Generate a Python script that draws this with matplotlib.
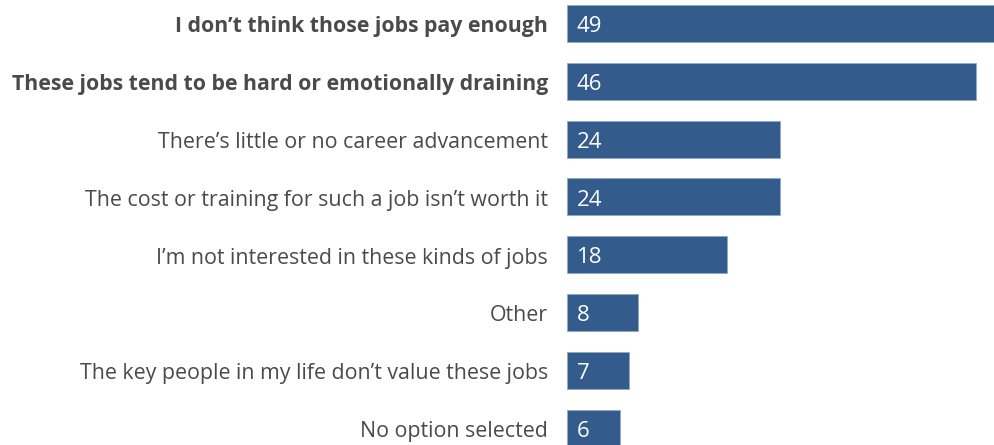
import matplotlib.pyplot as plt

reasons = [
    "I don\u2019t think those jobs pay enough",
    "These jobs tend to be hard or emotionally draining",
    "There\u2019s little or no career advancement",
    "The cost or training for such a job isn\u2019t worth it",
    "I\u2019m not interested in these kinds of jobs",
    "Other",
    "The key people in my life don\u2019t value these jobs",
    "No option selected",
]
shares = [49, 46, 24, 24, 18, 8, 7, 6]
bold_rows = [0, 1]

BAR_COLOR = "#335b8c"
TEXT_COLOR = "#4a4a4a"

plt.rcParams['font.family'] = ['Open Sans', 'DejaVu Sans']

fig = plt.figure(figsize=(9.94, 4.45), dpi=100)
ax = fig.add_axes([567 / 994, 0, 427 / 994, 1])

pos = list(range(len(reasons)))
ax.barh(pos, shares, height=0.64, color=BAR_COLOR, edgecolor="#8fa9cc", linewidth=0.6)

# baseline sits a little below the bar centre
for i, (label, v) in enumerate(zip(reasons, shares)):
    bold = i in bold_rows
    ax.text(1.1, i + 0.148, str(v), color="white", fontsize=16, va="baseline", ha="left")
    ax.text(-2.15, i + 0.152, label, color=TEXT_COLOR, fontsize=15.3 if bold else 15.4,
            va="baseline", ha="right", fontweight="bold" if bold else "normal", clip_on=False)

ax.set_xlim(0, 48.03)
ax.set_ylim(7.29, -0.407)
ax.axis("off")

fig.savefig("out.png", dpi=100)
